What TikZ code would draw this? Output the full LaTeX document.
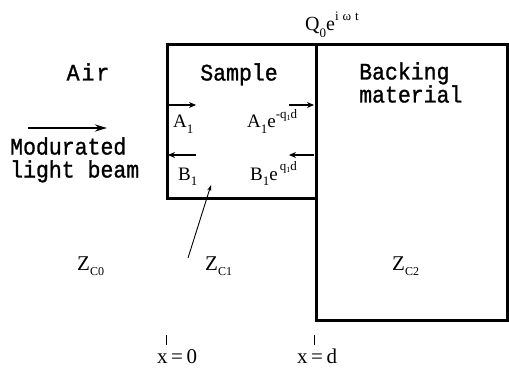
\documentclass[tikz,border=0pt]{standalone}
\usepackage{fontspec}
\setmainfont{Liberation Serif}
\newfontfamily\labfont[FakeBold=1.2]{Liberation Mono}
\usetikzlibrary{arrows.meta}
\newcommand{\lsub}[1]{\raisebox{-0.3em}{\fontsize{13}{13}\selectfont #1}}
\newcommand{\lsup}[1]{\raisebox{0.5em}{\fontsize{13}{13}\selectfont #1}}
\newcommand{\ssub}[1]{\raisebox{-0.15em}{\fontsize{8}{8}\selectfont #1}}
\newcommand{\zsub}[1]{\raisebox{-0.25em}{\fontsize{12}{12}\selectfont #1}}
\newcommand{\tall}[1]{\scalebox{1}[1.1]{#1}}
\begin{document}
\begin{tikzpicture}[x=1pt,y=-1pt,
  boxline/.style={line width=3pt},
  mono/.style={inner sep=0pt,text height=12pt,text depth=1pt,font=\fontsize{21.5}{22}\selectfont\labfont},
  serif/.style={inner sep=0pt,anchor=base west,font=\fontsize{19}{19}\selectfont},
  zlab/.style={inner sep=0pt,anchor=base west,font=\fontsize{21}{21}\selectfont},
  flux/.style={line width=1.4pt,-{Stealth[length=7pt,width=6pt]}},
  beam/.style={line width=2.4pt,-{Stealth[length=12pt,width=7pt]}},
  pointer/.style={line width=0.9pt,-{Stealth[length=6pt,width=4pt]}},
  tick/.style={line width=0.8pt}]
\useasboundingbox (0,0) rectangle (509,369);
% boxes
\draw[boxline] (167,45) rectangle (316,198);
\draw[boxline] (316,45) rectangle (507,320);
% texts
\node[serif,font=\fontsize{20}{20}\selectfont] (q) at (305,31) {Q\lsub{0}e\lsup{i\hspace{4pt}ω\hspace{4pt}t}};
\node[mono] (air) at (88,75) {\tall{A\hspace{2pt}i\hspace{2pt}r}};
\node[mono] (sample) at (239,75) {\tall{Sample}};
\node[mono,anchor=west] (backing) at (359,74) {\tall{Backing}};
\node[mono,anchor=west] (material) at (359,97) {\tall{material}};
\node[mono,anchor=west] (mod) at (10,149) {\tall{Modurated}};
\node[mono,anchor=west] (light) at (10,172) {\tall{light beam}};
\node[serif] (a1) at (173,128) {A\lsub{1}};
\node[serif] (a1e) at (247,128) {A\lsub{1}e\lsup{-q\ssub{1}d}};
\node[serif] (b1) at (178,180) {B\lsub{1}};
\node[serif] (b1e) at (250,180) {B\lsub{1}e\lsup{\,q\ssub{1}d}};
\node[zlab] (z0) at (77,270) {Z\zsub{C0}};
\node[zlab] (z1) at (205,270) {Z\zsub{C1}};
\node[zlab] (z2) at (392,270) {Z\zsub{C2}};
\node[zlab,text depth=0pt] (x0) at (157,363) {x\,=\,0};
\node[zlab,text depth=0pt] (xd) at (297,363) {x\,=\,d};
% arrows
\coordinate (bs) at (28,128); \coordinate (be) at (107,128);
\draw[beam] (bs) -- (be);
\coordinate (a1s) at (168,105); \coordinate (a1t) at (196,105);
\coordinate (a2s) at (289,105); \coordinate (a2t) at (314,105);
\coordinate (b1s) at (196,155); \coordinate (b1t) at (168,155);
\coordinate (b2s) at (314,155); \coordinate (b2t) at (289,155);
\draw[flux] (a1s) -- (a1t);
\draw[flux] (a2s) -- (a2t);
\draw[flux] (b1s) -- (b1t);
\draw[flux] (b2s) -- (b2t);
\coordinate (ps) at (188,258); \coordinate (pt) at (211,185);
\draw[pointer] (ps) -- (pt);
% ticks
\coordinate (t0a) at (166,335); \coordinate (t0b) at (166,345);
\coordinate (tda) at (314,335); \coordinate (tdb) at (314,345);
\draw[tick] (t0a) -- (t0b);
\draw[tick] (tda) -- (tdb);
\end{tikzpicture}
\end{document}
